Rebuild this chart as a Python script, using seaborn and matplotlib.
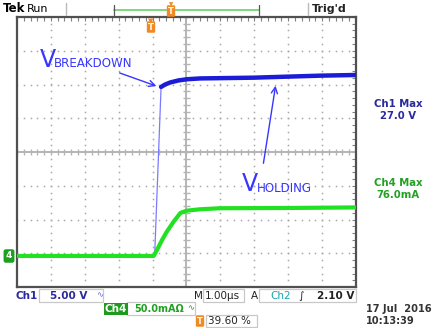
import numpy as np
import pandas as pd
import matplotlib
matplotlib.use("Agg")
import matplotlib.pyplot as plt
from matplotlib.patches import FancyArrowPatch, Rectangle
import seaborn as sns

# ---- acquisition data (time in µs relative to trigger) ----
ch1_time = [-3.96, 0.10, 0.29, 0.41, 0.56, 0.80, 1.06, 1.45, 3.01, 4.99, 6.04]
ch1_volts = [0.0, 0.0, 25.04, 25.40, 25.70, 26.00, 26.18, 26.30, 26.41, 26.71, 26.81]

ch4_time = [-3.96, 0.07, 0.17, 0.32, 0.46, 0.66, 0.86, 1.05, 1.45, 2.04, 4.10, 6.04]
ch4_ma = [0.0, 0.0, 8.9, 23.7, 36.0, 50.8, 63.7, 67.1, 69.2, 70.7, 71.1, 71.9]

CH1_SCALE = 5.0      # V/div
CH4_SCALE = 50.0     # mA/div
GROUND_DIV = -3.08   # ground reference, divisions from centre
T_START, T_DIV = -3.96, 1.0   # µs, 10 divisions across

W, H = 437, 328
sns.set_style("white")
plt.rcParams["font.family"] = ["DejaVu Sans"]

fig = plt.figure(figsize=(W / 100, H / 100), dpi=100)
fig.patch.set_facecolor("white")


def fx(px):
    return px / W


def fy(py):
    return 1 - py / H


# graticule area
L, R, T, B = 17, 356, 17, 287
ax = fig.add_axes([fx(L), fy(B), (R - L) / W, (B - T) / H])
x0, x1 = T_START, T_START + 10 * T_DIV
ax.set_xlim(x0, x1)
ax.set_ylim(-4, 4)
ax.set_facecolor("white")

# dotted grid: dots every 1/5 division along each division line
grid_c = "#a8a8a8"
xc = x0 + 5 * T_DIV
for k in range(1, 10):
    if k == 5:
        continue
    gx = x0 + k * T_DIV
    ys = np.arange(-4, 4.001, 0.2)
    ax.plot(np.full_like(ys, gx), ys, ls="none", marker="s", ms=1.1,
            mec="none", mfc=grid_c, zorder=1)
for k in range(-3, 4):
    if k == 0:
        continue
    xs = np.arange(x0, x1 + 0.001, 0.2 * T_DIV)
    ax.plot(xs, np.full_like(xs, k), ls="none", marker="s", ms=1.1,
            mec="none", mfc=grid_c, zorder=1)

# centre crosshair with 1/5-division ticks
cc = "#b4b4b4"
ax.axhline(0, color=cc, lw=1.4, zorder=1)
ax.axvline(xc, color=cc, lw=1.4, zorder=1)
tk = np.arange(x0, x1 + 0.001, 0.2 * T_DIV)
ax.vlines(tk, -0.09, 0.09, color=cc, lw=1.0, zorder=1)
tky = np.arange(-4, 4.001, 0.2)
ax.hlines(tky, xc - 0.09, xc + 0.09, color=cc, lw=1.0, zorder=1)

# border with inward ticks
for s in ax.spines.values():
    s.set_color("#505050")
    s.set_linewidth(1.6)
ax.set_xticks(np.arange(x0, x1 + 0.001, 0.2 * T_DIV))
ax.set_yticks(np.arange(-4, 4.001, 0.2))
ax.tick_params(direction="in", length=2.6, width=0.8, color="#808080",
               top=True, right=True, labelbottom=False, labelleft=False)

# traces
df1 = pd.DataFrame({"t": ch1_time, "v": ch1_volts})
df1["div"] = df1["v"] / CH1_SCALE + GROUND_DIV
df4 = pd.DataFrame({"t": ch4_time, "i": ch4_ma})
df4["div"] = df4["i"] / CH4_SCALE + GROUND_DIV

sns.lineplot(data=df1, x="t", y="div", ax=ax, color="#7a7aff", lw=0.9,
             estimator=None, sort=False, zorder=3)
sns.lineplot(data=df4, x="t", y="div", ax=ax, color="#22e022", lw=3.0,
             estimator=None, sort=False, zorder=4)
sns.lineplot(data=df1.iloc[2:], x="t", y="div", ax=ax, color="#1c1cd8",
             lw=3.2, estimator=None, sort=False, zorder=5)
ax.set_xlabel("")
ax.set_ylabel("")

# ---- annotations ----
ann_c = "#3636ff"
fig.text(fx(40), fy(67), "V", color=ann_c, fontsize=17, va="baseline")
fig.text(fx(54), fy(67), "BREAKDOWN", color=ann_c, fontsize=8.6, va="baseline")
fig.text(fx(242), fy(191), "V", color=ann_c, fontsize=17, va="baseline")
fig.text(fx(257), fy(192), "HOLDING", color=ann_c, fontsize=8.6, va="baseline")
for (ax_, ay_), (bx_, by_) in [((117, 72), (159, 87)), ((263, 166), (276, 83))]:
    fig.add_artist(FancyArrowPatch((fx(ax_), fy(ay_)), (fx(bx_), fy(by_)),
                                   transform=fig.transFigure, arrowstyle="->",
                                   mutation_scale=11, color=ann_c, lw=1.0))

# ---- status bar (top) ----
fig.text(fx(3), fy(9), "Tek", fontsize=8.5, fontweight="bold", color="black",
         va="center")
fig.text(fx(27), fy(9), "Run", fontsize=8, color="black", va="center")
fig.add_artist(plt.Line2D([fx(66), fx(66)], [fy(3), fy(15)],
                          transform=fig.transFigure, color="#bbbbbb", lw=1))
fig.add_artist(plt.Line2D([fx(114), fx(259)], [fy(10), fy(10)],
                          transform=fig.transFigure, color="#7cd87c", lw=1.4))
for bx in (114, 259):
    fig.add_artist(plt.Line2D([bx / W, bx / W], [fy(5), fy(15)],
                              transform=fig.transFigure, color="#555555", lw=0.9))
fig.text(fx(171), fy(11), "T", fontsize=6, fontweight="bold", color="white",
         ha="center", va="center",
         bbox=dict(boxstyle="round,pad=0.15", fc="#f08a24", ec="none"))
fig.text(fx(171), fy(5), "\u25BC", fontsize=4, color="#f08a24",
         ha="center", va="center")
fig.add_artist(plt.Line2D([fx(308), fx(308)], [fy(3), fy(15)],
                          transform=fig.transFigure, color="#bbbbbb", lw=1))
fig.text(fx(312), fy(9), "Trig'd", fontsize=8, fontweight="bold",
         color="#222222", va="center")

# trigger position marker
fig.text(fx(151), fy(27), "T", fontsize=6, fontweight="bold", color="white",
         ha="center", va="center",
         bbox=dict(boxstyle="round,pad=0.15", fc="#f08a24", ec="none"))
fig.text(fx(151), fy(21), "\u25BC", fontsize=5, color="#f08a24",
         ha="center", va="center")

# channel 4 ground marker
fig.text(fx(9), fy(256), "4", fontsize=6.5, fontweight="bold", color="white",
         ha="center", va="center",
         bbox=dict(boxstyle="round,pad=0.25", fc="#1ea01e", ec="none"))

# ---- readouts (right) ----
navy = "#2a2a9c"
green = "#24a024"
fig.text(fx(398), fy(104), "Ch1 Max", color=navy, fontsize=7.3,
         fontweight="bold", ha="center", va="center")
fig.text(fx(398), fy(116), "27.0 V", color=navy, fontsize=7.3,
         fontweight="bold", ha="center", va="center")
fig.text(fx(398), fy(183), "Ch4 Max", color=green, fontsize=7.3,
         fontweight="bold", ha="center", va="center")
fig.text(fx(398), fy(195), "76.0mA", color=green, fontsize=7.3,
         fontweight="bold", ha="center", va="center")


def box(x, y, w, h):
    fig.add_artist(Rectangle((fx(x), fy(y + h)), w / W, h / H,
                             transform=fig.transFigure, fill=False,
                             ec="#c8c8c8", lw=0.9))


# ---- bottom readouts ----
fig.text(fx(16), fy(296), "Ch1", color=navy, fontsize=7.5, fontweight="bold",
         va="center")
box(39, 289, 64, 13)
fig.text(fx(50), fy(296), "5.00 V", color=navy, fontsize=7.5,
         fontweight="bold", va="center")
fig.text(fx(96), fy(295), "\u223F", color="#6a6ad0", fontsize=6, va="center")

fig.text(fx(194), fy(296), "M", color="#222222", fontsize=7.5, va="center")
box(203, 289, 41, 13)
fig.text(fx(205), fy(296), "1.00µs", color="#222222", fontsize=7.5,
         va="center")
fig.text(fx(251), fy(296), "A", color="#222222", fontsize=7.5, va="center")
box(259, 289, 97, 13)
fig.text(fx(270), fy(296), "Ch2", color="#1aa5b0", fontsize=7.5,
         va="center")
fig.text(fx(298), fy(296), "\u222B", color="#222222", fontsize=7.5,
         va="center")
fig.text(fx(354), fy(296), "2.10 V", color="#222222", fontsize=7.5,
         fontweight="bold", ha="right", va="center")

fig.text(fx(116), fy(309), "Ch4", color="white", fontsize=7.5,
         fontweight="bold", ha="center", va="center",
         bbox=dict(boxstyle="square,pad=0.12", fc="#1e9a1e", ec="none"))
box(127, 302, 68, 13)
fig.text(fx(134), fy(309), "50.0mA\u03A9", color=green, fontsize=7,
         fontweight="bold", va="center")
fig.text(fx(187), fy(308), "\u223F", color=green, fontsize=6, va="center")

fig.text(fx(200), fy(321), "T", fontsize=6, fontweight="bold", color="white",
         ha="center", va="center",
         bbox=dict(boxstyle="round,pad=0.15", fc="#f08a24", ec="none"))
box(206, 315, 51, 12)
fig.text(fx(208), fy(321), "39.60 %", color="#222222", fontsize=7.5,
         va="center")

fig.text(fx(366), fy(309), "17 Jul  2016", color="#333333", fontsize=7.1,
         fontweight="bold", va="center")
fig.text(fx(366), fy(321), "10:13:39", color="#333333", fontsize=7.1,
         fontweight="bold", va="center")

fig.savefig("out.png", dpi=100, facecolor="white")
